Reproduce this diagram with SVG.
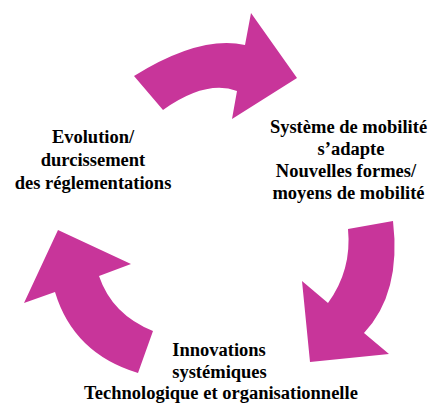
<svg xmlns="http://www.w3.org/2000/svg" width="431" height="403" viewBox="0 0 431 403">
<style>
.arrow{fill:#C8359A;stroke:none}
.lbl{font-weight:bold;font-size:18.5px;fill:#000;text-anchor:middle}
</style>
<rect width="431" height="403" fill="#fff"/>
<g id="connectors">
<path id="arrow-top" class="arrow" d="M134,76 Q200,35 245,45 L251,13 L297,78 L232,119 L237,91 Q206,79.5 163,110 Z"/>
<path id="arrow-right" class="arrow" d="M348,229 L393,221 Q401.5,293 364,333 L389,354 L310,362 L302,281 L328,303 Q352,270 348,229 Z"/>
<path id="arrow-left" class="arrow" d="M58,230 L131,264 L99,276 Q112,314.5 153,331 L138,373 Q73.5,353.5 55,292 L24,303 Z"/>
</g>
<g font-family="Liberation Serif, Times New Roman, serif">
<g id="node-regulation">
<text class="lbl" x="93" y="143">Evolution/</text>
<text class="lbl" x="93" y="166">durcissement</text>
<text class="lbl" x="93" y="189">des réglementations</text>
</g>
<g id="node-mobility">
<text class="lbl" x="348.5" y="133">Système de mobilité</text>
<text class="lbl" x="351" y="155">s’adapte</text>
<text class="lbl" x="346" y="177">Nouvelles formes/</text>
<text class="lbl" x="348.5" y="199">moyens de mobilité</text>
</g>
<g id="node-innovation">
<text class="lbl" x="219" y="356">Innovations</text>
<text class="lbl" x="219.5" y="378">systémiques</text>
<text class="lbl" x="221" y="399">Technologique et organisationnelle</text>
</g>
</g>
</svg>
